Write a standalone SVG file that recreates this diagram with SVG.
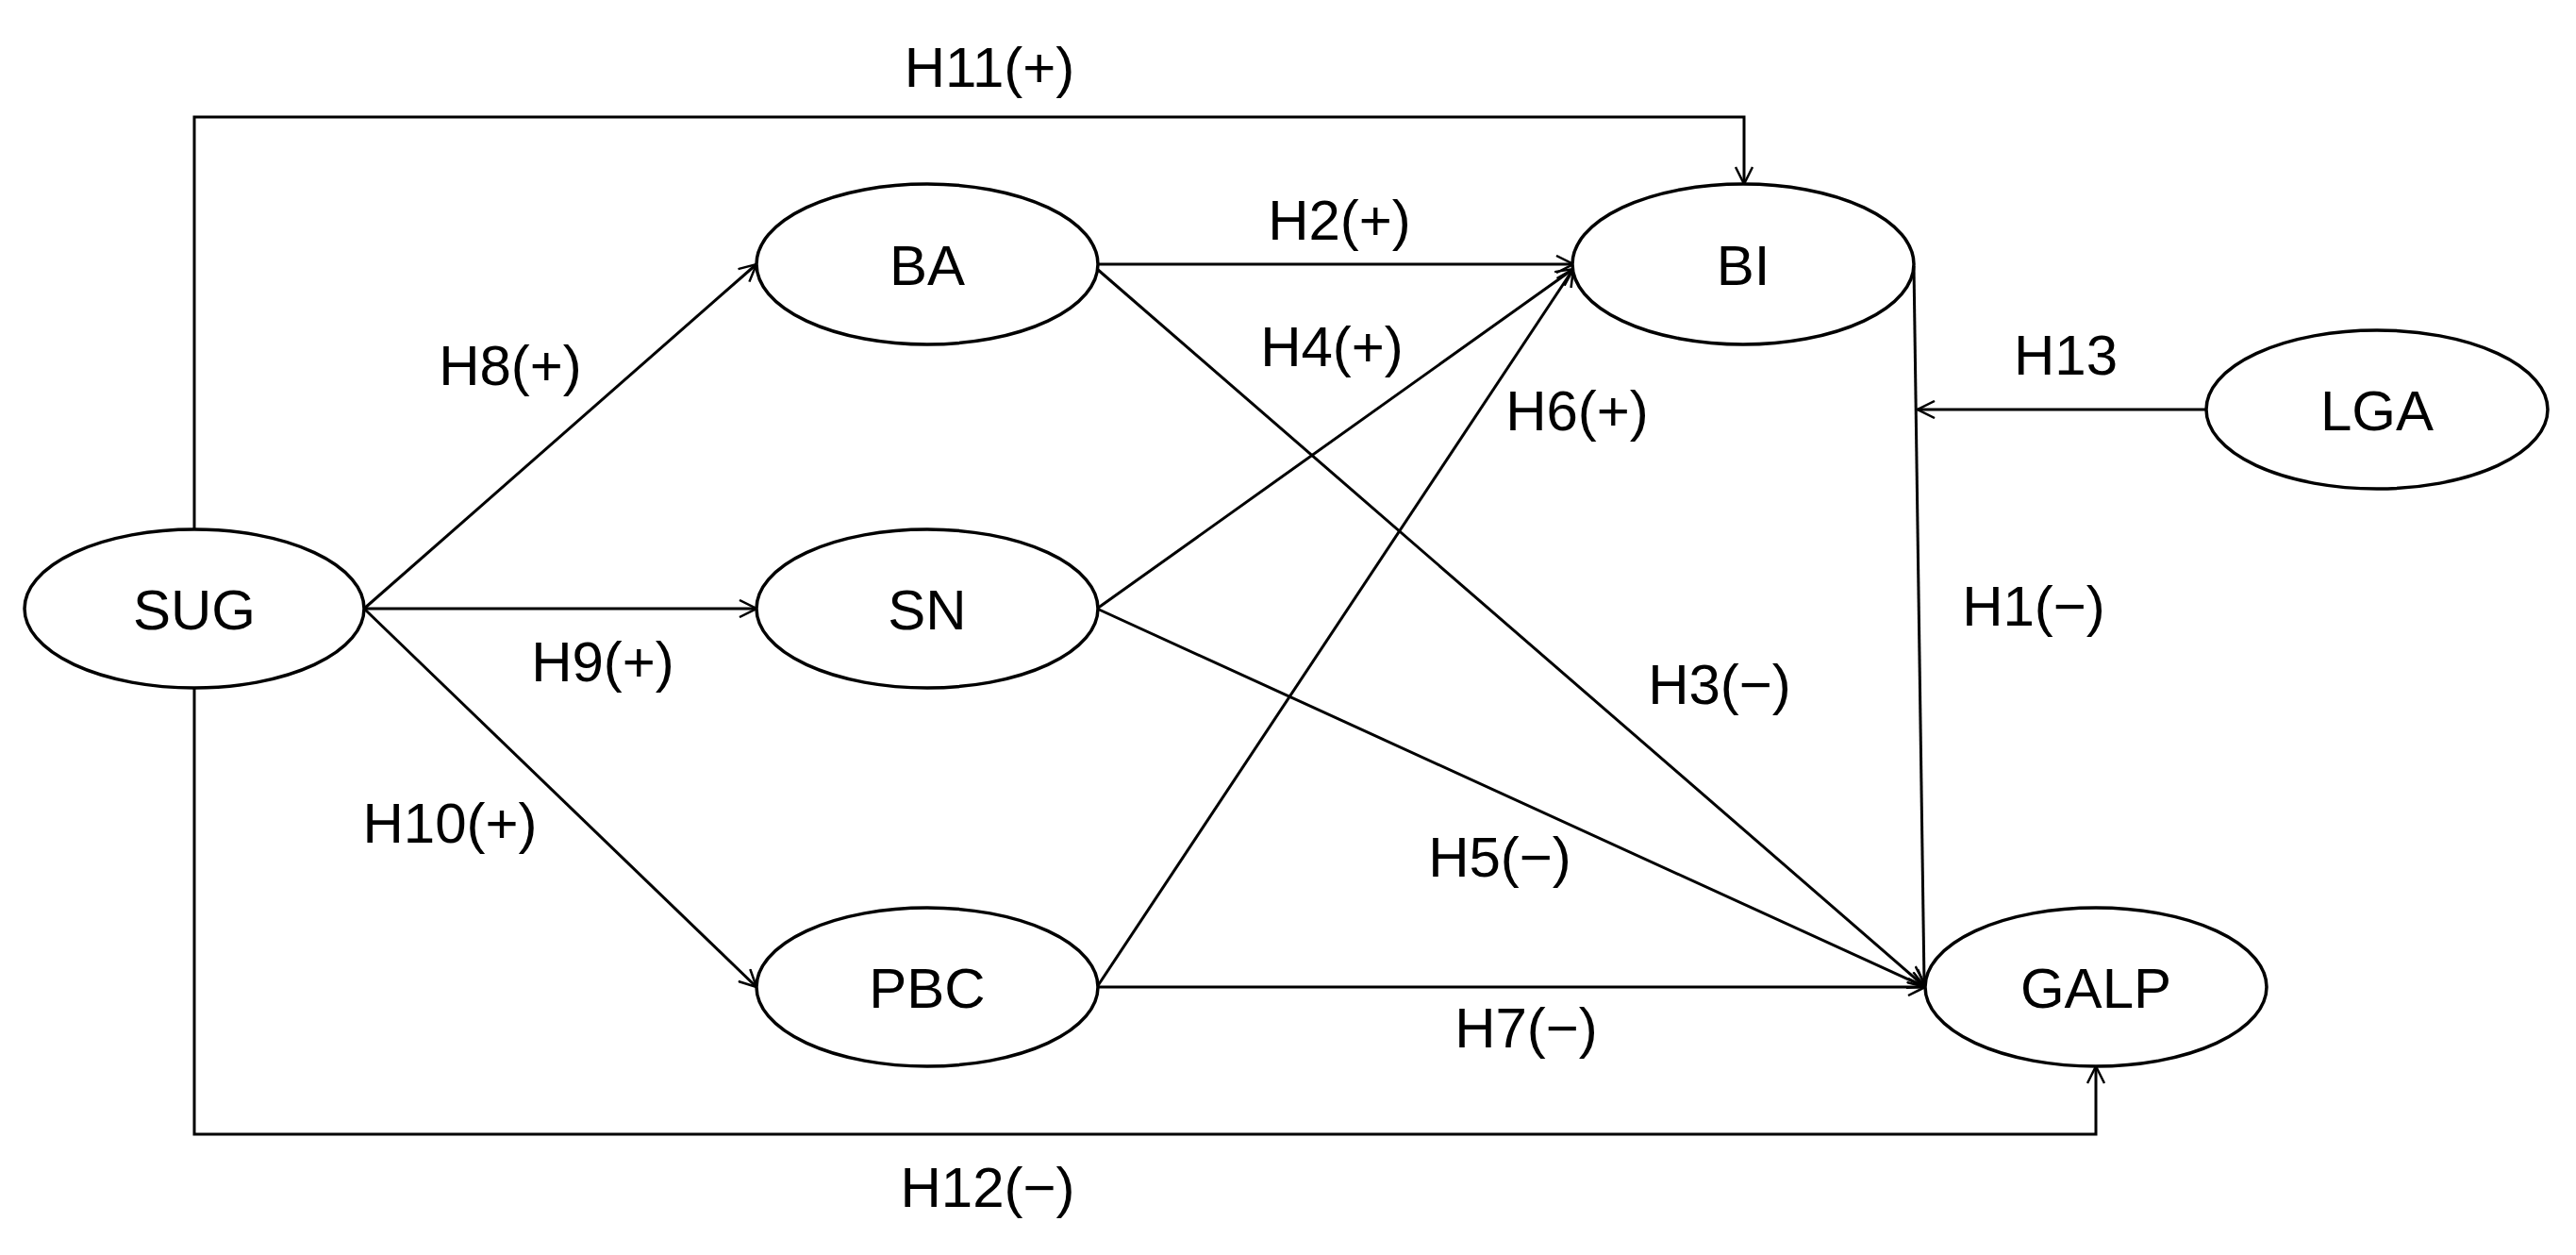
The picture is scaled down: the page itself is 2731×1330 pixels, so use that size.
<svg xmlns="http://www.w3.org/2000/svg" width="2731" height="1330" viewBox="0 0 2731 1330">
<style>
.n{fill:#fff;stroke:#000;stroke-width:3.5}
text{font-family:"Liberation Sans",Arial,sans-serif;font-size:60px;text-anchor:middle;fill:#000}
.c{fill:none;stroke:#000;stroke-width:3;marker-end:url(#a)}
.p{fill:none;stroke:#000;stroke-width:3}
</style>
<defs>
<marker id="a" viewBox="0 0 20 20" refX="19" refY="10" markerWidth="20" markerHeight="20" markerUnits="userSpaceOnUse" orient="auto">
<path d="M1,1 L19,10 L1,19" fill="none" stroke="#000" stroke-width="2.5"/>
</marker>
</defs>
<rect width="2731" height="1330" fill="#fff"/>
<g id="connectors">
<path class="c" d="M206,561 V124 H1849 V195"/>
<path class="c" d="M206,729 V1202 H2222 V1130"/>
<line class="c" x1="386" y1="645" x2="802" y2="280"/>
<line class="c" x1="386" y1="645" x2="802" y2="645"/>
<line class="c" x1="386" y1="645" x2="802" y2="1046"/>
<line class="c" x1="1163" y1="280" x2="1668" y2="280"/>
<line class="c" x1="1163" y1="285" x2="2041" y2="1046"/>
<line class="c" x1="1163" y1="645" x2="1668" y2="285"/>
<line class="c" x1="1163" y1="645" x2="2041" y2="1046"/>
<line class="c" x1="1163" y1="1046" x2="1668" y2="285"/>
<line class="c" x1="1163" y1="1046" x2="2041" y2="1046"/>
<line class="c" x1="2029" y1="282" x2="2040" y2="1042"/>
<line class="c" x1="2340" y1="434" x2="2033" y2="434"/>
<text x="1049" y="92">H11(+)</text>
<text x="541" y="408">H8(+)</text>
<text x="1420" y="254">H2(+)</text>
<text x="1412" y="388">H4(+)</text>
<text x="1672" y="456">H6(+)</text>
<text x="2190" y="397">H13</text>
<text x="2156" y="663">H1(−)</text>
<text x="639" y="722">H9(+)</text>
<text x="477" y="893">H10(+)</text>
<text x="1823" y="746">H3(−)</text>
<text x="1590" y="929">H5(−)</text>
<text x="1618" y="1110">H7(−)</text>
<text x="1047" y="1279">H12(−)</text>
</g>
<g id="SUG"><ellipse class="n" cx="206" cy="645" rx="180" ry="84"/><text x="206" y="667">SUG</text></g>
<g id="BA"><ellipse class="n" cx="983" cy="280" rx="181" ry="85"/><text x="983" y="302">BA</text></g>
<g id="SN"><ellipse class="n" cx="983" cy="645" rx="181" ry="84"/><text x="983" y="667">SN</text></g>
<g id="PBC"><ellipse class="n" cx="983" cy="1046" rx="181" ry="84"/><text x="983" y="1068">PBC</text></g>
<g id="BI"><ellipse class="n" cx="1848" cy="280" rx="181" ry="85"/><text x="1848" y="302">BI</text></g>
<g id="LGA"><ellipse class="n" cx="2520" cy="434" rx="181" ry="84"/><text x="2520" y="456">LGA</text></g>
<g id="GALP"><ellipse class="n" cx="2222" cy="1046" rx="181" ry="84"/><text x="2222" y="1068">GALP</text></g>
</svg>
